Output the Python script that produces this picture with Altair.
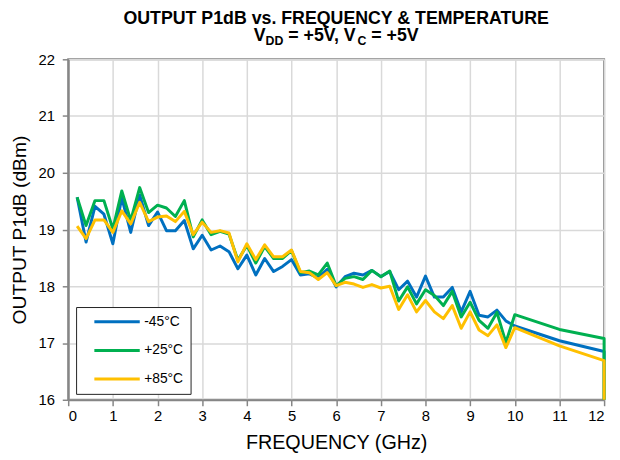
import altair as alt
import pandas as pd

# ---- data ----
freq = [0.2, 0.4, 0.6, 0.8, 1.0, 1.2, 1.4, 1.6, 1.8, 2.0,
        2.2, 2.4, 2.6, 2.8, 3.0, 3.2, 3.4, 3.6, 3.8, 4.0,
        4.2, 4.4, 4.6, 4.8, 5.0, 5.2, 5.4, 5.6, 5.8, 6.0,
        6.2, 6.4, 6.6, 6.8, 7.0, 7.2, 7.4, 7.6, 7.8, 8.0,
        8.2, 8.4, 8.6, 8.8, 9.0, 9.2, 9.4, 9.6, 9.8, 10.0,
        11.0, 12.0, 12.0]

p1db_m45 = [19.57, 18.78, 19.41, 19.27, 18.75, 19.56, 18.95, 19.61, 19.07, 19.31,
            18.98, 18.98, 19.16, 18.66, 18.90, 18.64, 18.71, 18.61, 18.31, 18.55,
            18.20, 18.49, 18.26, 18.35, 18.47, 18.20, 18.22, 18.15, 18.30, 17.99,
            18.17, 18.23, 18.20, 18.28, 18.17, 18.26, 17.94, 18.09, 17.81, 18.18,
            17.81, 17.81, 17.98, 17.55, 17.91, 17.49, 17.46, 17.58, 17.39, 17.30,
            17.04, 16.85, 16.00]

p1db_p25 = [19.57, 19.07, 19.51, 19.51, 19.01, 19.68, 19.16, 19.74, 19.30, 19.43,
            19.38, 19.23, 19.51, 18.87, 19.17, 18.91, 18.97, 18.92, 18.46, 18.72,
            18.41, 18.70, 18.49, 18.49, 18.63, 18.24, 18.27, 18.20, 18.41, 18.01,
            18.14, 18.17, 18.12, 18.28, 18.17, 18.27, 17.74, 17.99, 17.69, 17.94,
            17.84, 17.66, 17.91, 17.46, 17.72, 17.40, 17.26, 17.54, 17.01, 17.50,
            17.24, 17.08, 16.00]

p1db_p85 = [19.06, 18.84, 19.17, 19.17, 18.95, 19.33, 19.10, 19.48, 19.14, 19.22,
            19.24, 19.14, 19.32, 18.91, 19.13, 18.95, 18.98, 18.94, 18.43, 18.75,
            18.47, 18.73, 18.52, 18.52, 18.64, 18.26, 18.24, 18.12, 18.24, 18.01,
            18.07, 18.04, 17.98, 18.03, 17.97, 18.00, 17.59, 17.85, 17.55, 17.75,
            17.55, 17.43, 17.66, 17.26, 17.55, 17.23, 17.13, 17.32, 16.92, 17.27,
            16.95, 16.69, 16.00]

temps = ["-45°C", "+25°C", "+85°C"]
colors = ["#0070C0", "#00B050", "#FFC000"]
x_ticks = [0, 1, 2, 3, 4, 5, 6, 7, 8, 9, 10, 11, 12]
y_ticks = [16, 17, 18, 19, 20, 21, 22]

rows = []
for name, vals in zip(temps, [p1db_m45, p1db_p25, p1db_p85]):
    for i, (f, v) in enumerate(zip(freq, vals)):
        rows.append({"freq": f, "p1db": v, "temp": name, "idx": i})
df = pd.DataFrame(rows)

W, H = 543, 345
FONT = "Liberation Sans"

lines = alt.Chart(df).mark_line(strokeWidth=3, strokeJoin="round").encode(
    x=alt.X("freq:Q", scale=alt.Scale(domain=[0, 12], nice=False, zero=False),
            axis=alt.Axis(values=x_ticks, title="FREQUENCY (GHz)", format="d",
                          labelPadding=3, titlePadding=9, titleFontSize=20)),
    y=alt.Y("p1db:Q", scale=alt.Scale(domain=[16, 22], nice=False, zero=False),
            axis=alt.Axis(values=y_ticks, title="OUTPUT P1dB (dBm)", format="d",
                          labelPadding=8, titlePadding=9)),
    color=alt.Color("temp:N", scale=alt.Scale(domain=temps, range=colors),
                    legend=alt.Legend(title=None, orient="none", legendX=8, legendY=251,
                                      direction="vertical", symbolType="stroke",
                                      symbolSize=46 * 46, symbolStrokeWidth=3,
                                      clipHeight=16,
                                      labelFontSize=14, labelFont=FONT, labelColor="black",
                                      strokeColor="#222222", fillColor="white",
                                      padding=7, rowPadding=13, symbolOffset=10,
                                      labelOffset=3, cornerRadius=0)),
    order=alt.Order("idx:Q"),
)

one = pd.DataFrame({"k": [0]})

# title line 1
t1 = alt.Chart(one).mark_text(text="OUTPUT P1dB vs. FREQUENCY & TEMPERATURE", font=FONT,
                              fontSize=18, fontWeight="bold", align="center",
                              baseline="alphabetic", color="black").encode(
    x=alt.value(W / 2), y=alt.value(-36))

# title line 2 with subscripts (leading spaces become offsets, SVG collapses them)
F, f = 18, 12.5
segs = [("V", F, 0), ("DD", f, 5), (" = +5V, V", F, 0), ("C", f, 5), (" = +5V", F, 0)]
em = {"V": 0.667, "D": 0.722, "C": 0.722, " ": 0.278, "=": 0.584, "+": 0.584, "5": 0.556, ",": 0.278}
widths = [sum(em[c] for c in s) * sz for s, sz, _ in segs]
x0 = W / 2 - sum(widths) / 2
t2_layers = []
for (s, sz, dy), w in zip(segs, widths):
    lead = len(s) - len(s.lstrip(" "))
    t2_layers.append(alt.Chart(one).mark_text(text=s.lstrip(" "), font=FONT, fontSize=sz, fontWeight="bold",
                                              align="left", baseline="alphabetic", color="black").encode(
        x=alt.value(x0 + lead * em[" "] * sz), y=alt.value(-19 + dy)))
    x0 += w

chart = alt.layer(lines, t1, *t2_layers).properties(
    width=W, height=H,
    padding={"left": 61, "top": 49, "right": 8, "bottom": 57},
    autosize=alt.AutoSizeParams(type="none"),
).configure_view(stroke="#868686", strokeWidth=2).configure_axis(
    labelFont=FONT, labelFontSize=15, labelColor="black",
    titleFont=FONT, titleFontSize=19.5, titleFontWeight="normal", titleColor="black",
    grid=True, gridColor="#D9D9D9", gridWidth=1.5,
    domainColor="#868686", domainWidth=2, tickColor="#868686", tickSize=6, tickWidth=1.5,
)

chart.save("out.html", embed_options={"renderer": "svg", "actions": False})
